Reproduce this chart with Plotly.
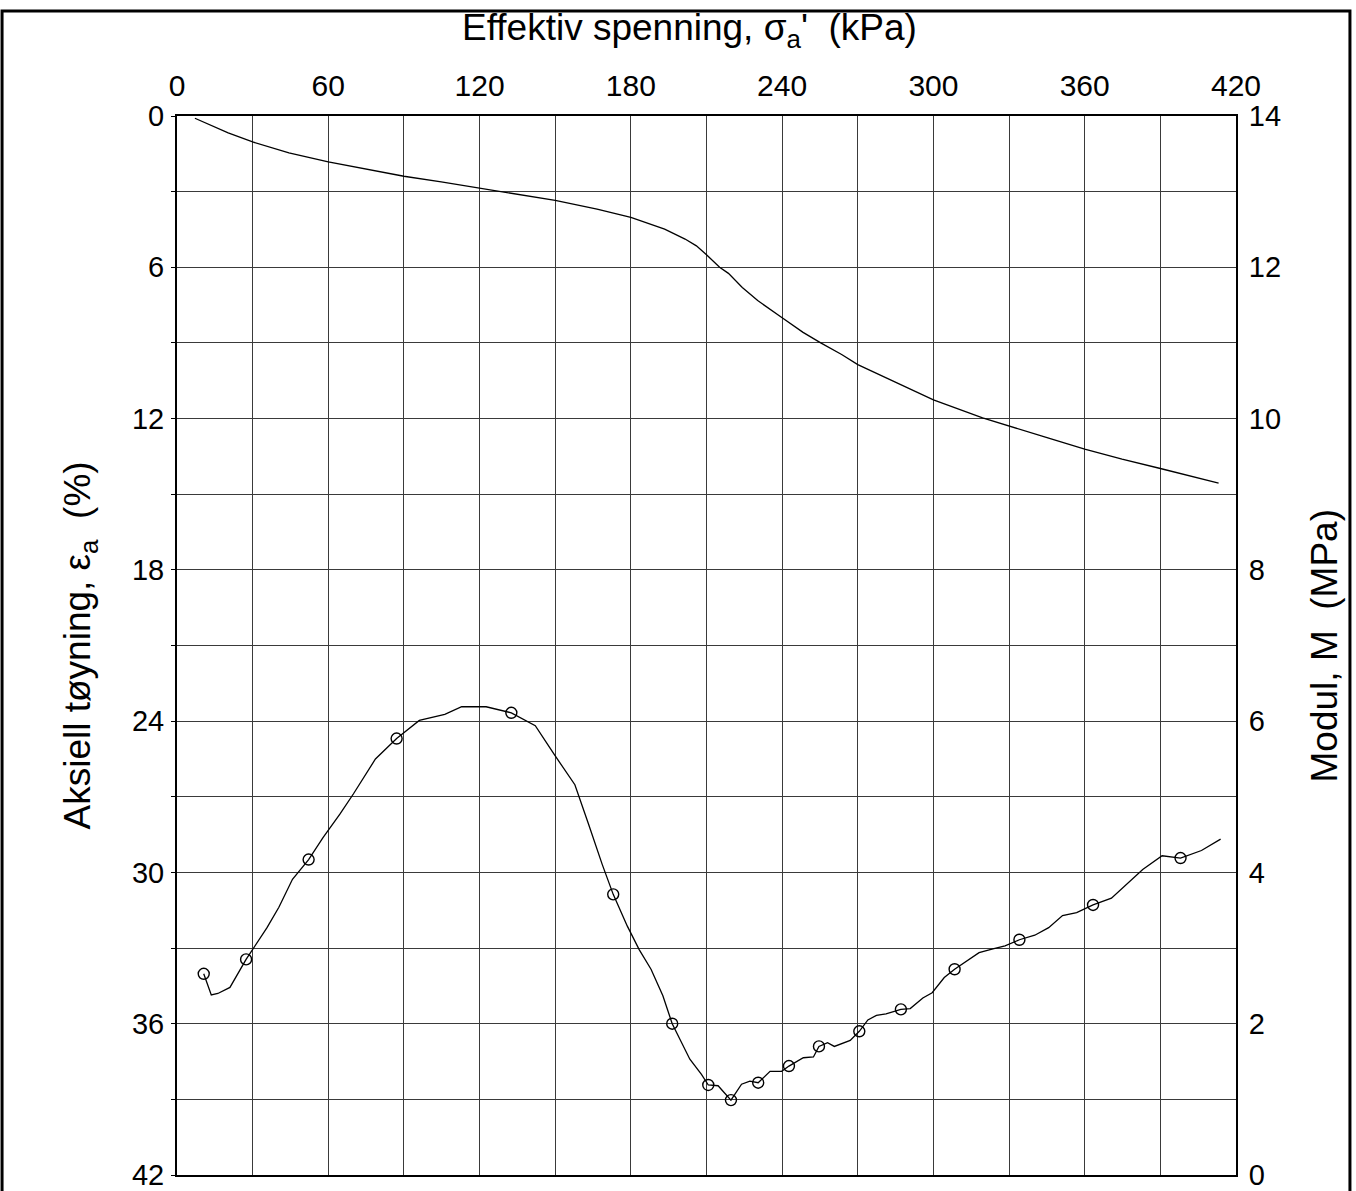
import plotly.graph_objects as go

# Aksiell tøyning mot effektiv spenning (kPa, %)
sigma_strain = [7.1, 20.3, 30.0, 44.4, 60.0, 72.6, 90.0, 104.8, 120.0, 129.0, 150.0,
                166.6, 180.0, 193.4, 201.5, 206.0, 210.0, 215.2, 218.7, 224.2, 230.3,
                240.0, 248.3, 255.3, 263.6, 270.0, 286.4, 300.0, 319.5, 330.0, 344.4,
                360.0, 374.8, 390.0, 413.1]
strain = [0.09, 0.67, 1.03, 1.46, 1.82, 2.07, 2.39, 2.61, 2.86, 3.00, 3.35,
          3.69, 4.02, 4.49, 4.88, 5.15, 5.50, 6.00, 6.24, 6.80, 7.32,
          8.00, 8.58, 9.00, 9.46, 9.86, 10.62, 11.26, 11.97, 12.30, 12.74,
          13.21, 13.61, 13.98, 14.56]

# Modul mot effektiv spenning (kPa, MPa)
sigma_mod = [10.6, 13.6, 16.2, 21.0, 27.4, 35.7, 40.4, 45.8, 52.2, 57.9, 64.6, 70.0,
             78.7, 87.1, 96.1, 106.2, 112.9, 122.6, 132.6, 142.1, 149.8, 157.8, 163.2,
             168.6, 173.0, 178.6, 183.3, 188.0, 192.7, 196.4, 203.4, 208.0, 210.7,
             214.6, 219.7, 223.9, 227.2, 230.5, 235.2, 239.8, 242.7, 248.4, 252.4,
             254.6, 258.0, 260.7, 267.0, 270.6, 274.0, 277.4, 281.2, 287.1, 290.8,
             295.8, 299.5, 304.3, 308.4, 318.1, 323.6, 328.4, 334.1, 340.2, 345.7,
             351.2, 356.8, 363.3, 370.6, 376.8, 383.0, 390.7, 398.0, 406.3, 413.9]
modulus = [2.66, 2.38, 2.40, 2.48, 2.85, 3.27, 3.54, 3.91, 4.17, 4.46, 4.77, 5.04,
           5.50, 5.77, 6.01, 6.09, 6.19, 6.19, 6.11, 5.94, 5.55, 5.16, 4.64,
           4.11, 3.71, 3.29, 2.98, 2.72, 2.37, 2.00, 1.53, 1.33, 1.19,
           1.18, 0.99, 1.20, 1.24, 1.22, 1.37, 1.37, 1.44, 1.55, 1.56,
           1.70, 1.75, 1.70, 1.78, 1.90, 2.05, 2.11, 2.13, 2.19, 2.20,
           2.34, 2.41, 2.61, 2.72, 2.94, 2.99, 3.03, 3.11, 3.17, 3.27,
           3.43, 3.47, 3.57, 3.66, 3.85, 4.04, 4.22, 4.19, 4.29, 4.44]

# Målepunkter markert med sirkler
sigma_mod_pts = [10.6, 27.4, 52.2, 87.1, 132.6, 173.0, 196.4, 210.7, 219.7,
                 230.5, 242.7, 254.6, 270.6, 287.1, 308.4, 334.1, 363.3, 398.0]
modulus_pts = [2.66, 2.85, 4.17, 5.77, 6.11, 3.71, 2.00, 1.19, 0.99,
               1.22, 1.44, 1.70, 1.90, 2.19, 2.72, 3.11, 3.57, 4.19]

x_ticks = [0, 60, 120, 180, 240, 300, 360, 420]
y_ticks = [0, 6, 12, 18, 24, 30, 36, 42]
y2_ticks = [0, 2, 4, 6, 8, 10, 12, 14]

FONT = "Arial, Liberation Sans, sans-serif"
GRID = "#3a3a3a"

fig = go.Figure()
fig.add_trace(go.Scatter(x=sigma_strain, y=strain, mode="lines",
                         line=dict(color="black", width=1.3), yaxis="y"))
fig.add_trace(go.Scatter(x=sigma_mod, y=modulus, mode="lines",
                         line=dict(color="black", width=1.3), yaxis="y2"))
fig.add_trace(go.Scatter(x=sigma_mod_pts, y=modulus_pts, mode="markers",
                         marker=dict(symbol="circle-open", size=11, color="black",
                                     line=dict(width=1.4, color="black")),
                         yaxis="y2"))

fig.update_layout(
    width=1356, height=1191,
    margin=dict(l=177, r=120, t=116, b=16, autoexpand=False),
    paper_bgcolor="white", plot_bgcolor="white",
    showlegend=False,
    font=dict(family=FONT, color="black", size=29),
    xaxis=dict(
        side="top", range=[0, 420], tickmode="array", tickvals=x_ticks,
        ticks="", showgrid=True, gridcolor=GRID, gridwidth=1,
        minor=dict(dtick=30, tick0=0, showgrid=True, gridcolor=GRID, gridwidth=1),
        showline=True, linecolor="black", linewidth=2, mirror=True,
        zeroline=False, tickfont=dict(size=30), ticklabelstandoff=6,
        ticklabeloverflow="allow", automargin=False,
    ),
    yaxis=dict(
        range=[42, 0], tickmode="array", tickvals=y_ticks,
        ticks="outside", ticklen=4, tickcolor="black",
        showgrid=True, gridcolor=GRID, gridwidth=1,
        minor=dict(dtick=3, tick0=0, showgrid=True, gridcolor=GRID, gridwidth=1,
                   ticks="outside", ticklen=4, tickcolor="black"),
        showline=True, linecolor="black", linewidth=2, mirror=True,
        zeroline=False, tickfont=dict(size=29), ticklabelstandoff=1,
        ticklabeloverflow="allow", automargin=False,
    ),
    yaxis2=dict(
        overlaying="y", side="right", range=[0, 14], tickmode="array",
        tickvals=y2_ticks, ticks="", showgrid=False, zeroline=False,
        showline=True, linecolor="black", linewidth=2,
        tickfont=dict(size=29), ticklabelstandoff=5,
        ticklabeloverflow="allow", automargin=False,
    ),
    annotations=[
        dict(text="Effektiv spenning, σ<sub>a</sub>'  (kPa)", xref="paper", yref="paper",
             x=0.484, y=1.081, xanchor="center", yanchor="middle", showarrow=False,
             font=dict(size=37, family=FONT)),
        dict(text="Aksiell tøyning, ε<sub>a</sub>  (%)", xref="paper", yref="paper",
             x=-0.0916, y=0.5, xanchor="center", yanchor="middle", showarrow=False,
             textangle=-90, font=dict(size=37, family=FONT)),
        dict(text="Modul, M  (MPa)", xref="paper", yref="paper",
             x=1.084, y=0.5, xanchor="center", yanchor="middle", showarrow=False,
             textangle=-90, font=dict(size=37, family=FONT)),
    ],
    shapes=[
        dict(type="rect", xref="paper", yref="paper",
             x0=-0.1652, x1=1.1076, y0=-0.03, y1=1.0992,
             line=dict(color="black", width=3), layer="above"),
    ],
)

fig.write_html("out.html")
